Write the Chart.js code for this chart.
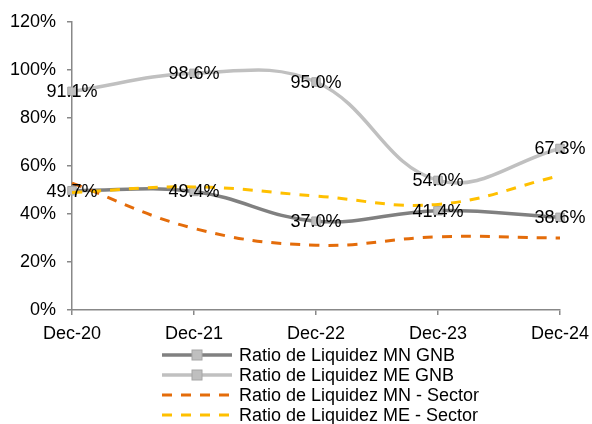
<!DOCTYPE html>
<html>
<head>
<meta charset="utf-8">
<script src="https://cdn.jsdelivr.net/npm/chart.js@4/dist/chart.umd.min.js"></script>
<style>
  html, body { margin: 0; padding: 0; background: #fff; }
  #wrap { width: 592px; height: 424px; }
</style>
</head>
<body>
<div id="wrap"><canvas id="chart-liquidez"></canvas></div>
<script>
const labels = ['Dec-20', 'Dec-21', 'Dec-22', 'Dec-23', 'Dec-24'];
const mnGnb = [49.7, 49.4, 37.0, 41.4, 38.6];
const meGnb = [91.1, 98.6, 95.0, 54.0, 67.3];
const mnSector = [52.9, 34.0, 27.0, 30.5, 30.0];
const meSector = [49.0, 51.3, 47.5, 44.0, 56.0];
const yTicks = [0, 20, 40, 60, 80, 100, 120];

const FONT = 'Liberation Sans, Arial, sans-serif';
const FONT_SIZE = 18;

const gnbDataset = (label, values, color, order) => ({
  label: label,
  data: values,
  borderColor: color,
  borderWidth: 3.5,
  tension: 0.4,
  pointStyle: 'rect',
  pointRadius: 6,
  pointBackgroundColor: '#BFBFBF',
  pointBorderColor: '#A6A6A6',
  pointBorderWidth: 1,
  showLabels: true,
  order: order
});

const sectorDataset = (label, values, color, order) => ({
  label: label,
  data: values,
  borderColor: color,
  borderWidth: 3,
  borderDash: [10, 9],
  tension: 0.4,
  pointRadius: 0,
  order: order
});

const data = {
  labels: labels,
  datasets: [
    gnbDataset('Ratio de Liquidez MN GNB', mnGnb, '#808080', 3),
    gnbDataset('Ratio de Liquidez ME GNB', meGnb, '#C0C0C0', 2),
    sectorDataset('Ratio de Liquidez MN - Sector', mnSector, '#E46C0A', 1),
    sectorDataset('Ratio de Liquidez ME - Sector', meSector, '#FFC000', 0)
  ]
};

// value labels on the GNB series
const valueLabels = {
  id: 'valueLabels',
  afterDatasetsDraw(chart) {
    const ctx = chart.ctx;
    ctx.save();
    ctx.font = FONT_SIZE + 'px ' + FONT;
    ctx.fillStyle = '#000';
    ctx.textAlign = 'center';
    ctx.textBaseline = 'middle';
    chart.data.datasets.forEach((ds, i) => {
      if (!ds.showLabels) return;
      chart.getDatasetMeta(i).data.forEach((pt, j) => {
        ctx.fillText(ds.data[j].toFixed(1) + '%', pt.x, pt.y + 1);
      });
    });
    ctx.restore();
  }
};

// legend drawn as a stacked list below the plot
const stackedLegend = {
  id: 'stackedLegend',
  afterDraw(chart) {
    const ctx = chart.ctx;
    const x0 = 162, lineLen = 70, y0 = 355, rowH = 20;
    ctx.save();
    ctx.font = FONT_SIZE + 'px ' + FONT;
    ctx.textBaseline = 'middle';
    chart.data.datasets.forEach((ds, i) => {
      const y = y0 + i * rowH;
      ctx.strokeStyle = ds.borderColor;
      ctx.lineWidth = ds.borderWidth;
      ctx.setLineDash(ds.borderDash || []);
      ctx.beginPath();
      ctx.moveTo(x0, y);
      ctx.lineTo(x0 + lineLen, y);
      ctx.stroke();
      ctx.setLineDash([]);
      if (ds.showLabels) {
        ctx.fillStyle = ds.pointBackgroundColor;
        ctx.strokeStyle = ds.pointBorderColor;
        ctx.lineWidth = 1;
        ctx.fillRect(x0 + lineLen / 2 - 5, y - 5, 10, 10);
        ctx.strokeRect(x0 + lineLen / 2 - 5, y - 5, 10, 10);
      }
      ctx.fillStyle = '#000';
      ctx.fillText(ds.label, x0 + lineLen + 7, y + 1);
    });
    ctx.restore();
  }
};

new Chart(document.getElementById('chart-liquidez'), {
  type: 'line',
  data: data,
  plugins: [valueLabels, stackedLegend],
  options: {
    responsive: true,
    maintainAspectRatio: false,
    animation: false,
    layout: { padding: { left: 0, right: 32, top: 22, bottom: 84 } },
    plugins: {
      legend: { display: false },
      tooltip: { enabled: false },
      title: { display: false }
    },
    scales: {
      x: {
        offset: false,
        border: { color: '#888', width: 1.5 },
        grid: { display: true, drawOnChartArea: false, drawTicks: true, tickLength: 5, color: '#888', lineWidth: 1.5 },
        ticks: { color: '#000', font: { size: FONT_SIZE, family: FONT }, padding: 8, maxRotation: 0 },
        afterFit: scale => {
          scale.height = 30;
          scale.paddingLeft = 0;
          scale.paddingRight = 0;
        }
      },
      y: {
        min: 0,
        max: 120,
        border: { color: '#888', width: 1.5 },
        grid: { display: true, drawOnChartArea: false, drawTicks: true, tickLength: 5, color: '#888', lineWidth: 1.5 },
        afterBuildTicks: scale => { scale.ticks = yTicks.map(v => ({ value: v })); },
        ticks: {
          color: '#000',
          font: { size: FONT_SIZE, family: FONT },
          padding: 11,
          callback: v => v + '%'
        },
        afterFit: scale => { scale.width = 72; }
      }
    }
  }
});
</script>
</body>
</html>
